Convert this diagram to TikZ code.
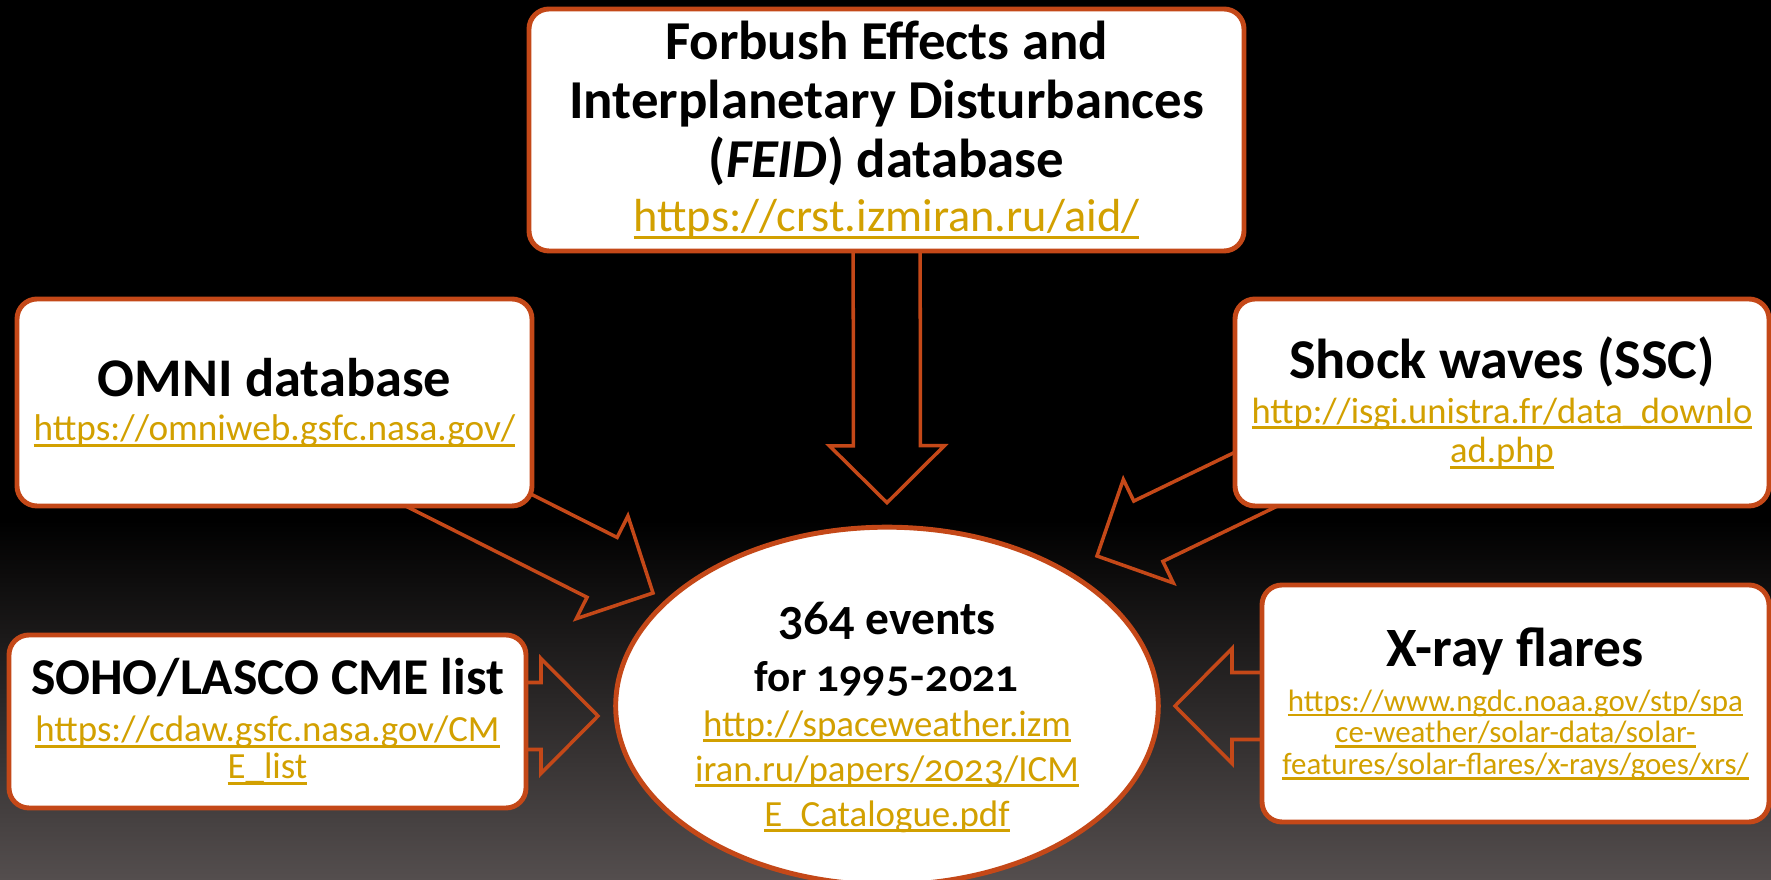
\documentclass[tikz,border=0pt]{standalone}
\usepackage{fontspec}
\setmainfont{Carlito}[Numbers=OldStyle]
\newfontfamily\oldnums{Lato}[Numbers=OldStyle]
\usepackage{xcolor}
\usepackage{tikz}
\usetikzlibrary{calc,shapes.geometric}

\definecolor{edgeorange}{RGB}{196,72,24}
\definecolor{linkgold}{RGB}{210,160,0}
\definecolor{bgbottom}{RGB}{84,78,78}

\pgfdeclarelayer{background}
\pgfdeclarelayer{arrows}
\pgfsetlayers{background,arrows,main}

% underlined link text
\newcommand{\weblink}[1]{{\color{linkgold}\setbox0\hbox{#1}\rlap{\rule[-0.17em]{\wd0}{0.08em}}\box0}}
\newcommand{\boxtitle}[2][15.6]{{\fontsize{#1}{#1}\selectfont\bfseries #2}}

% hollow block arrow, #1 = tail, #2 = tip
\newcommand{\blockarrow}[2]{%
    \coordinate (hb) at ($(#2)!0.57cm!(#1)$);
    \draw[flowarrow] ($(#1)!0.335cm!90:(#2)$) -- ($(hb)!0.335cm!90:(#2)$)
        -- ($(hb)!0.575cm!90:(#2)$) -- (#2) -- ($(hb)!0.575cm!-90:(#2)$)
        -- ($(hb)!0.335cm!-90:(#2)$) -- ($(#1)!0.335cm!-90:(#2)$);
}

\begin{document}
\begin{tikzpicture}[
    box/.style={draw=edgeorange, line width=1.4pt, fill=white, rounded corners=0.2cm,
        align=center, inner sep=0pt},
    flowarrow/.style={draw=edgeorange, line width=1pt, line join=miter}
]
    \useasboundingbox (0,0) rectangle (17.71,8.80);

    % Sources
    \node[box, minimum width=7.15cm, minimum height=2.42cm,
        font=\fontsize{15.6}{16.8}\selectfont] (feid) at (8.865,7.50)
        {\boxtitle{Forbush Effects and}\\
         \boxtitle{Interplanetary Disturbances}\\
         \boxtitle{(\textit{FEID}) database}\\[-1.4pt]
         {\fontsize{13.2}{13.2}\selectfont\weblink{https://crst.izmiran.ru/aid/}}};

    \node[box, minimum width=5.15cm, minimum height=2.07cm,
        font=\fontsize{10.6}{12.5}\selectfont] (omni) at (2.745,4.775)
        {\boxtitle[15.5]{OMNI database}\\
         \weblink{https://omniweb.gsfc.nasa.gov/}};

    \node[box, minimum width=5.34cm, minimum height=2.07cm,
        font=\fontsize{10.4}{11.2}\selectfont] (shock) at (15.02,4.775)
        {\boxtitle[16]{Shock waves (SSC)}\\[1.6pt]
         \weblink{http://isgi.unistra.fr/data\_downlo}\\
         \weblink{ad.php}};

    \node[box, minimum width=5.17cm, minimum height=1.73cm,
        font=\fontsize{10.5}{10.5}\selectfont] (soho) at (2.675,1.585)
        {\boxtitle[14.7]{SOHO/LASCO CME list}\\[2.9pt]
         \weblink{https://cdaw.gsfc.nasa.gov/CM}\\
         \weblink{E\_list}};

    \node[box, minimum width=5.07cm, minimum height=2.37cm,
        font=\fontsize{8.8}{9}\selectfont] (xray) at (15.155,1.765)
        {\boxtitle[15.8]{X-ray flares}\\[3.8pt]
         \weblink{https://www.ngdc.noaa.gov/stp/spa}\\
         \weblink{ce-weather/solar-data/solar-}\\
         \weblink{features/solar-flares/x-rays/goes/xrs/}};

    % Catalogue
    \node[ellipse, draw=edgeorange, line width=1.4pt, fill=white, inner sep=0pt,
        minimum width=5.38cm, minimum height=3.36cm, align=center,
        font=\fontsize{10.5}{12.8}\selectfont] (events) at (8.87,1.74)
        {\rule{0pt}{0.55cm}\boxtitle[13.5]{{\oldnums 364} events}\\[3.3pt]
         \boxtitle[12.3]{for {\oldnums 1995-2021}}\\
         \weblink{http://spaceweather.izm}\\
         \weblink{iran.ru/papers/{\oldnums 2023}/ICM}\\
         \weblink{E\_Catalogue.pdf}};

    % Arrow ends
    \coordinate (feid-tip) at ($(events.north)+(0,0.22)$);
    \coordinate (omni-tip) at ($(events.center)+(-2.34,1.13)$);
    \coordinate (shock-tip) at ($(events.center)+(2.10,1.50)$);
    \coordinate (soho-tip) at ($(events.center)+(-2.89,-0.10)$);
    \coordinate (xray-tip) at ($(events.center)+(2.88,0)$);
    \coordinate (shock-tail) at ($(shock.center)+(0,0.42)$);
    \coordinate (soho-tail) at (soho.center |- soho-tip);
    \coordinate (xray-tail) at (xray.center |- xray-tip);

    \begin{pgfonlayer}{arrows}
        \blockarrow{feid.center}{feid-tip}
        \blockarrow{omni.center}{omni-tip}
        \blockarrow{shock-tail}{shock-tip}
        \blockarrow{soho-tail}{soho-tip}
        \blockarrow{xray-tail}{xray-tip}
    \end{pgfonlayer}

    \begin{pgfonlayer}{background}
        \fill[black] (0,0) rectangle (17.71,8.80);
        \shade[top color=black, bottom color=bgbottom] (0,0) rectangle (17.71,3.6);
    \end{pgfonlayer}
\end{tikzpicture}
\end{document}
